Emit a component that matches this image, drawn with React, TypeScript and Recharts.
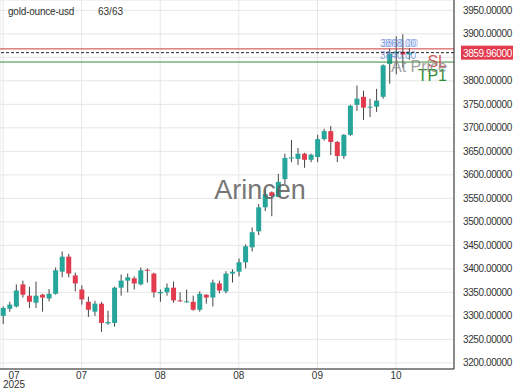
import React from "react";
import {
  ComposedChart,
  Bar,
  XAxis,
  YAxis,
  CartesianGrid,
  ReferenceLine,
} from "recharts";

// daily candles
const opens = [
  3300, 3315, 3320, 3367, 3343, 3328, 3345, 3337, 3347, 3394, 3426, 3386, 3356, 3330, 3309, 3326,
  3284, 3285, 3360, 3375, 3380, 3367, 3398, 3390, 3348, 3350, 3360, 3333, 3330, 3330, 3313, 3345,
  3339, 3369, 3352, 3390, 3394, 3414, 3446, 3480, 3531, 3563, 3553, 3591, 3636, 3634, 3645, 3632,
  3638, 3676, 3693, 3670, 3640, 3685, 3749, 3766, 3744, 3745, 3766, 3836, 3858, 3862, 3856,
];
const highs = [
  3320, 3330, 3367, 3375, 3362, 3373, 3347, 3357, 3403, 3437, 3432, 3392, 3365, 3341, 3332, 3330,
  3311, 3362, 3388, 3390, 3384, 3403, 3401, 3392, 3356, 3369, 3373, 3350, 3356, 3343, 3352, 3346,
  3377, 3375, 3395, 3399, 3422, 3452, 3488, 3538, 3570, 3565, 3602, 3645, 3674, 3657, 3647, 3645,
  3685, 3698, 3704, 3672, 3687, 3749, 3790, 3779, 3762, 3783, 3835, 3869, 3895, 3899, 3870,
];
const lows = [
  3283, 3309, 3318, 3339, 3317, 3317, 3309, 3331, 3345, 3382, 3382, 3352, 3324, 3298, 3300, 3266,
  3281, 3277, 3343, 3350, 3356, 3365, 3371, 3339, 3330, 3343, 3328, 3330, 3328, 3311, 3309, 3326,
  3320, 3348, 3348, 3371, 3384, 3401, 3437, 3472, 3523, 3512, 3553, 3580, 3627, 3621, 3615, 3627,
  3627, 3673, 3642, 3627, 3634, 3683, 3736, 3717, 3723, 3734, 3762, 3794, 3814, 3828, 3845,
];
const closes = [
  3317, 3324, 3354, 3345, 3330, 3343, 3339, 3347, 3397, 3426, 3390, 3369, 3335, 3313, 3326, 3285,
  3287, 3360, 3375, 3382, 3369, 3397, 3396, 3350, 3351, 3360, 3333, 3332, 3331, 3313, 3347, 3339,
  3371, 3354, 3390, 3394, 3414, 3448, 3478, 3531, 3559, 3555, 3585, 3636, 3637, 3645, 3632, 3643,
  3676, 3693, 3670, 3640, 3685, 3747, 3762, 3743, 3745, 3758, 3833, 3858, 3862, 3856, 3859.96,
];

const xTicks = [0, 12, 24, 36, 48, 60];
const xTickLabels = ["07", "07", "08", "08", "09", "10"];
const yTicks = [3200, 3250, 3300, 3350, 3400, 3450, 3500, 3550, 3600, 3650, 3700, 3750, 3800, 3850, 3900, 3950];

const lastPrice = 3859.96;
const slPrice = 3868;
const tpPrice = 3840;

const GREEN = "#26a69a";
const RED = "#e23b4e";
const FONT = "'Liberation Sans', Arial, sans-serif";

const data = opens.map((open, i) => ({
  x: i,
  open,
  high: highs[i],
  low: lows[i],
  close: closes[i],
}));

const Candle = (props: any) => {
  const { x, y, width, height, payload } = props;
  const { open, close, high, low } = payload;
  const top = Math.min(y, y + height);
  const h = Math.abs(height);
  const k = high === low ? 0 : h / (high - low);
  const up = close >= open;
  const bodyTop = top + (high - Math.max(open, close)) * k;
  const bodyH = Math.max(1, Math.abs(open - close) * k);
  const cx = x + width / 2;
  return (
    <g>
      <line x1={cx} x2={cx} y1={top} y2={top + h} stroke="#444" strokeWidth={1} />
      <rect x={x} y={bodyTop} width={width} height={bodyH} fill={up ? GREEN : RED} />
    </g>
  );
};

const XTick = (props: any) => {
  const { x, y, payload } = props;
  const i = xTicks.indexOf(payload.value);
  const first = i === 0;
  const tx = first ? x + 11 : x;
  return (
    <g>
      <text x={tx} y={y + 8} textAnchor="middle" fontSize={10} fill="#333" fontFamily={FONT}>
        {xTickLabels[i]}
      </text>
      {first && (
        <text x={tx} y={y + 17} textAnchor="middle" fontSize={10} fill="#333" fontFamily={FONT}>
          2025
        </text>
      )}
    </g>
  );
};

const PriceTag = ({ viewBox }: any) => {
  const { x, y, width } = viewBox;
  const bx = x + width + 7;
  return (
    <g>
      <rect x={bx} y={y - 7} width={52} height={14} fill={RED} />
      <text x={bx + 2} y={y + 4} fontSize={10} letterSpacing={-0.4} fill="#fff" fontFamily={FONT}>
        {lastPrice.toFixed(5)}
      </text>
      <text x={x + width - 7} y={y + 19} textAnchor="end" fontSize={16} fill="#888" fillOpacity={0.8} fontFamily={FONT}>
        At Price
      </text>
    </g>
  );
};

const SlLabel = ({ viewBox }: any) => {
  const { x, y, width } = viewBox;
  return (
    <g fontFamily={FONT}>
      <text x={x + width - 74} y={y - 2} fontSize={10} fill="#6f8fe0" fillOpacity={0.85}>
        {slPrice.toFixed(2)}
      </text>
      <text x={x + width - 72} y={y - 2} fontSize={10} fill="#6f8fe0" fillOpacity={0.6}>
        {lastPrice.toFixed(0) + ".00"}
      </text>
      <text x={x + width - 7} y={y + 18} textAnchor="end" fontSize={16} fill="#c9403c" fillOpacity={0.85}>
        SL
      </text>
    </g>
  );
};

const TpLabel = ({ viewBox }: any) => {
  const { x, y, width } = viewBox;
  return (
    <g fontFamily={FONT}>
      <text x={x + width - 74} y={y - 3} fontSize={10} fill="#6f8fe0" fillOpacity={0.85}>
        {tpPrice.toFixed(2)}
      </text>
      <text x={x + width - 7} y={y + 19} textAnchor="end" fontSize={16} fill="#2f8f2f">
        TP1
      </text>
    </g>
  );
};

export default function App() {
  return (
    <div style={{ position: "absolute", left: 0, top: 0, width: 520, height: 390, fontFamily: FONT }}>
      <ComposedChart width={520} height={390} data={data} margin={{ top: 0, right: 0, bottom: 0, left: 0 }}>
        <CartesianGrid stroke="#e6e6e6" />
        <XAxis
          dataKey="x"
          type="number"
          domain={[-0.46, 68.85]}
          allowDataOverflow
          ticks={xTicks}
          interval={0}
          tick={<XTick />}
          tickLine={false}
          tickSize={2}
          tickMargin={0}
          height={21}
          axisLine={{ stroke: "#222" }}
        />
        <YAxis
          orientation="right"
          domain={[3187, 3972]}
          allowDataOverflow
          ticks={yTicks}
          interval={0}
          // the 3850 label sits under the last-price tag, so it is left blank
          tickFormatter={(v: number) => (v === 3850 ? "" : v.toFixed(5))}
          tick={{ fontSize: 10, fill: "#333", fontFamily: FONT, letterSpacing: -0.4 }}
          tickLine={false}
          tickMargin={3}
          width={66}
          axisLine={{ stroke: "#222" }}
        />
        <Bar dataKey={(d: any) => [d.low, d.high]} barSize={5} shape={<Candle />} isAnimationActive={false} />
        <ReferenceLine y={tpPrice} stroke="#3a8a3a" strokeWidth={1} label={<TpLabel />} />
        <ReferenceLine y={slPrice} stroke="#d03c3c" strokeWidth={1} label={<SlLabel />} />
        <ReferenceLine y={lastPrice} stroke="#222" strokeDasharray="3 2" strokeWidth={1} label={<PriceTag />} />
      </ComposedChart>
      <div style={{ position: "absolute", left: 8, top: 6, fontSize: 10, color: "#333", letterSpacing: -0.2 }}>
        gold-ounce-usd
      </div>
      <div style={{ position: "absolute", left: 98, top: 6, fontSize: 10, color: "#333" }}>63/63</div>
      <div
        style={{
          position: "absolute",
          left: 160,
          width: 200,
          top: 175,
          textAlign: "center",
          fontSize: 27,
          color: "#5f5f5f",
          opacity: 0.85,
        }}
      >
        Arincen
      </div>
    </div>
  );
}
